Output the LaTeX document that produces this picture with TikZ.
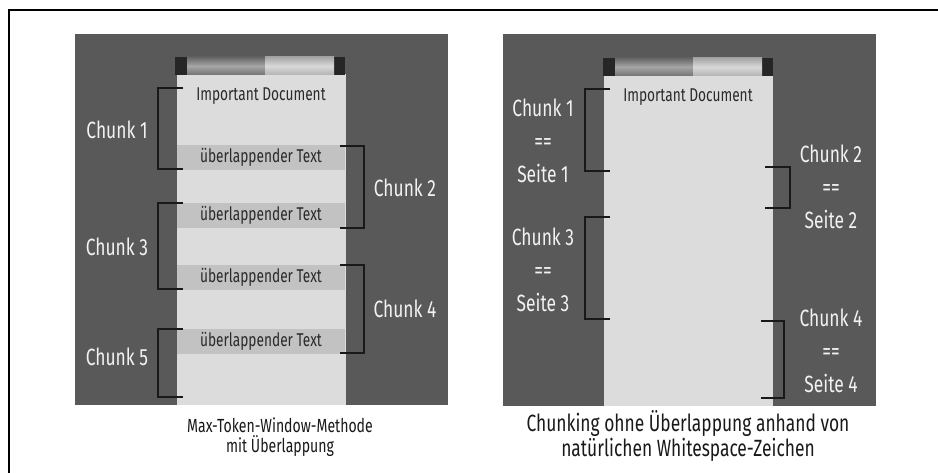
\documentclass[tikz,border=0pt]{standalone}
\usepackage{fontspec}
\setmainfont{Fira Sans}[FakeStretch=0.74]
\definecolor{panelgray}{HTML}{595959}
\definecolor{papergray}{HTML}{DCDCDC}
\definecolor{bandgray}{HTML}{C2C2C2}
\definecolor{capdark}{HTML}{262626}
\definecolor{inkdark}{HTML}{2A2A2A}
\begin{document}
\begin{tikzpicture}[x=1pt,y=-1pt,
  panel/.style={fill=panelgray},
  paper/.style={fill=papergray},
  band/.style={fill=bandgray},
  bracket/.style={draw=black!90, line width=2.3pt},
  doctext/.style={text=inkdark, font=\fontsize{18.5}{20}\selectfont, inner sep=0pt},
  chunklabel/.style={text=white!95!black, font=\fontsize{23.5}{33}\selectfont, align=center, inner sep=0pt},
  caption/.style={text=black!90, align=center, inner sep=0pt}]
\useasboundingbox (0,0) rectangle (938,473);
\fill[white] (0,0) rectangle (938,473);
\draw[line width=2pt] (9,473) -- (9,10) -- (938,10);

% ---------- scroll on the left ----------
\fill[panel] (75,34) rectangle (448,405);
\fill[paper] (177,74) rectangle (346,405);
\foreach \ya/\yb in {145/170, 203/228, 265/290, 329/354}
  \fill[band] (177,\ya) rectangle (345,\yb);
% roller
\fill[capdark] (175,57) rectangle (187,75);
\fill[capdark] (334,57) rectangle (345,75);
\shade[top color=black!60, bottom color=black!55, middle color=black!35] (187,57) rectangle (265,75);
\shade[top color=black!35, bottom color=black!30, middle color=black!15] (265,57) rectangle (334,75);

\node[doctext] (docL) at (261,96) {Important Document};
\node[doctext] (ovA) at (261,157.5) {überlappender Text};
\node[doctext] (ovB) at (261,215.5) {überlappender Text};
\node[doctext] (ovC) at (261,277.5) {überlappender Text};
\node[doctext] (ovD) at (261,341.5) {überlappender Text};

\draw[bracket] (183,88) -- (158,88) -- (158,169) -- (183,169);
\draw[bracket] (340,146) -- (364,146) -- (364,228) -- (340,228);
\draw[bracket] (183,203) -- (158,203) -- (158,289) -- (183,289);
\draw[bracket] (340,265) -- (364,265) -- (364,353) -- (340,353);
\draw[bracket] (183,329) -- (158,329) -- (158,397) -- (183,397);

\node[chunklabel] (lc1) at (117,130) {Chunk 1};
\node[chunklabel] (lc2) at (405,188) {Chunk 2};
\node[chunklabel] (lc3) at (117,247) {Chunk 3};
\node[chunklabel] (lc4) at (405,309) {Chunk 4};
\node[chunklabel] (lc5) at (117,357) {Chunk 5};

\node[caption, font=\fontsize{19}{20.5}\selectfont] (capL) at (280,437)
  {Max-Token-Window-Methode\\mit Überlappung};

% ---------- scroll on the right ----------
\fill[panel] (503,34) rectangle (876,406);
\fill[paper] (604,75) rectangle (773,406);
\fill[capdark] (603,58) rectangle (615,76);
\fill[capdark] (762,58) rectangle (773,76);
\shade[top color=black!60, bottom color=black!55, middle color=black!35] (615,58) rectangle (693,76);
\shade[top color=black!35, bottom color=black!30, middle color=black!15] (693,58) rectangle (762,76);

\node[doctext] (docR) at (688,97) {Important Document};

\draw[bracket] (610,89) -- (585,89) -- (585,171) -- (610,171);
\draw[bracket] (765,167) -- (790,167) -- (790,208) -- (765,208);
\draw[bracket] (610,217) -- (585,217) -- (585,319) -- (610,319);
\draw[bracket] (761,321) -- (784,321) -- (784,398) -- (761,398);

\node[chunklabel] (rc1) at (543,141) {Chunk 1\\==\\Seite 1};
\node[chunklabel] (rc2) at (831,187) {Chunk 2\\==\\Seite 2};
\node[chunklabel] (rc3) at (543,270) {Chunk 3\\==\\Seite 3};
\node[chunklabel] (rc4) at (831,351) {Chunk 4\\==\\Seite 4};

\node[caption, font=\fontsize{23.5}{23}\selectfont] (capR) at (688,436)
  {Chunking ohne Überlappung anhand von\\natürlichen Whitespace-Zeichen};
\end{tikzpicture}
\end{document}
